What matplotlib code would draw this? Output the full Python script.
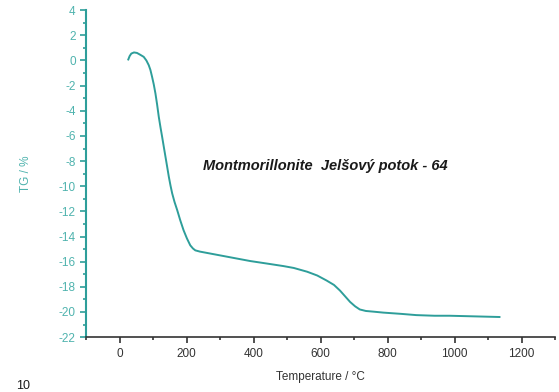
import numpy as np
import matplotlib.pyplot as plt
from matplotlib.ticker import MultipleLocator

plt.rcParams['font.family'] = ['Liberation Sans', 'DejaVu Sans']
plt.rcParams['axes.unicode_minus'] = False

# TG curve
temperature = [26, 30, 35, 43, 52, 62, 72, 80, 87, 92, 97, 102, 107, 112,
               117, 122, 127, 132, 137, 142, 147, 152, 157, 164, 172, 181,
               191, 201, 211, 219, 226, 240, 280, 340, 390, 440, 489, 520,
               560, 590, 618, 640, 658, 673, 688, 703, 717, 735, 760, 787,
               840, 886, 940, 985, 1060, 1134]
tg = [0.08, 0.35, 0.55, 0.64, 0.6, 0.45, 0.29, 0.0, -0.37, -0.75, -1.3,
      -1.9, -2.62, -3.5, -4.48, -5.3, -6.07, -6.87, -7.66, -8.45, -9.25,
      -9.95, -10.57, -11.25, -11.9, -12.7, -13.5, -14.15, -14.7, -14.95,
      -15.1, -15.2, -15.4, -15.7, -15.95, -16.15, -16.35, -16.5, -16.8,
      -17.1, -17.5, -17.85, -18.3, -18.75, -19.2, -19.55, -19.8, -19.92,
      -19.98, -20.05, -20.15, -20.25, -20.3, -20.3, -20.35, -20.4]

teal = '#2e9e9a'
teal_light = '#4fb3ae'
grey = '#333333'

fig = plt.figure(figsize=(5.59, 3.92), dpi=100)
ax = fig.add_axes([0.154, 0.140, 0.839, 0.834])

ax.plot(temperature, tg, color=teal, lw=1.4, solid_joinstyle='round')

ax.set_xlim(-100, 1300)
ax.set_ylim(-22, 4)
ax.xaxis.set_major_locator(MultipleLocator(200))
ax.xaxis.set_minor_locator(MultipleLocator(100))
ax.yaxis.set_major_locator(MultipleLocator(2))
ax.yaxis.set_minor_locator(MultipleLocator(1))

ax.spines['top'].set_visible(False)
ax.spines['right'].set_visible(False)
ax.spines['left'].set_color(teal)
ax.spines['left'].set_linewidth(1.5)
ax.spines['bottom'].set_color(grey)
ax.spines['bottom'].set_linewidth(1.2)

ax.tick_params(axis='y', which='both', colors=teal, labelcolor=teal_light,
               labelsize=8.5, direction='out')
ax.tick_params(axis='y', which='major', length=4, width=1.2)
ax.tick_params(axis='y', which='minor', length=2.5, width=1.2)
ax.tick_params(axis='x', which='both', colors=grey, labelcolor=grey,
               labelsize=8.5, direction='out')
ax.tick_params(axis='x', which='major', length=4, width=1.2)
ax.tick_params(axis='x', which='minor', length=2.5, width=1.2)

ax.set_xlabel('Temperature / °C', fontsize=8.5, color=grey, labelpad=8)
ax.set_ylabel('TG / %', fontsize=8.5, color=teal_light, labelpad=19)

ax.text(613, -8.4, 'Montmorillonite  Jelšový potok - 64', fontsize=10.5,
        fontweight='bold', fontstyle='italic', color='#1a1a1a',
        ha='center', va='center')

fig.text(0.028, 0.0, '10', fontsize=9, color='#1a1a1a', ha='left', va='bottom')

fig.savefig('out.png', dpi=100)
